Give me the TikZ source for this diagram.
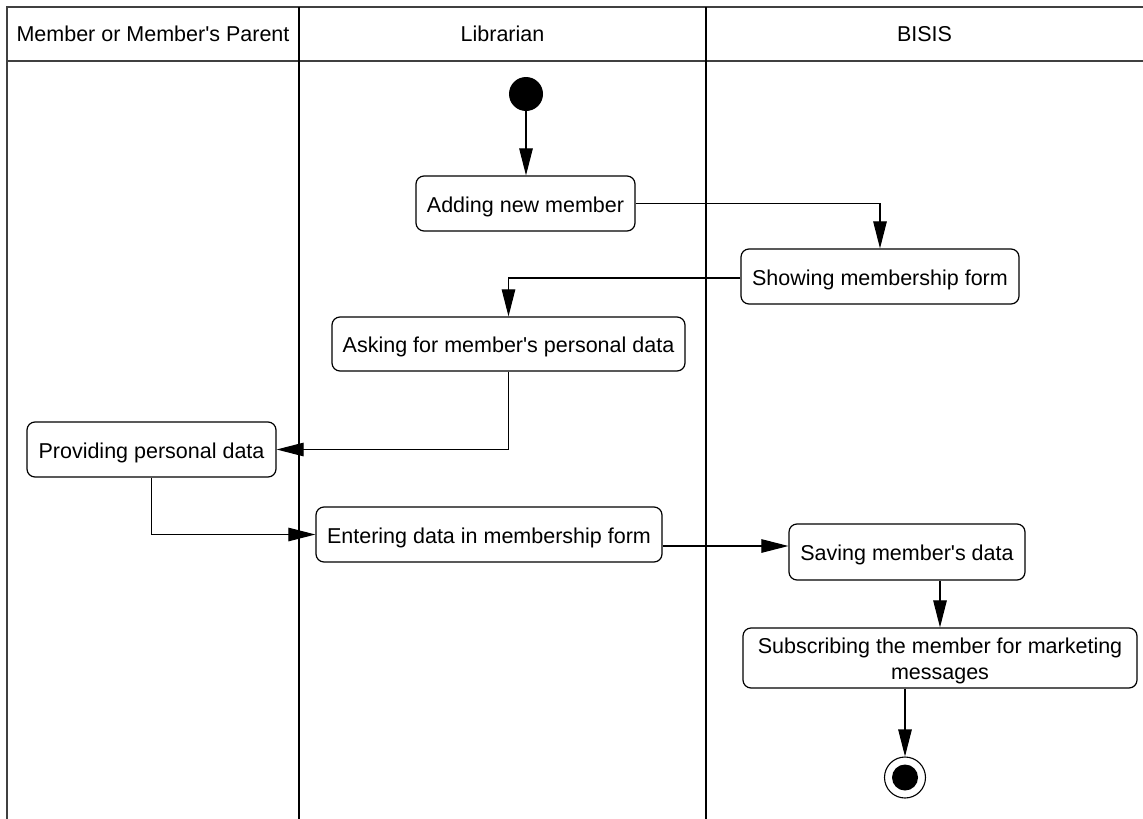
\documentclass[tikz,border=0pt]{standalone}
\usepackage{fontspec}
\setmainfont{Liberation Sans}[Ligatures=TeXOff]
\usetikzlibrary{arrows.meta,calc}
\begin{document}
\begin{tikzpicture}[x=1pt,y=-1pt,
  lane/.style={line width=1.4pt,draw=black!75},
  divider/.style={line width=1.5pt,draw=black},
  act/.style={draw,rounded corners=8pt,line width=1.2pt,fill=white,align=center,
    font=\fontsize{21.5}{26}\selectfont,inner sep=0pt,text height=21.5pt,text depth=4.5pt},
  head/.style={font=\fontsize{21.5}{26}\selectfont},
  flow/.style={line width=1.1pt,-{Triangle[length=27pt,width=13.5pt]}},
  startnode/.style={circle,fill=black,minimum size=34pt,inner sep=0pt},
  endnode/.style={circle,draw,line width=1.1pt,minimum size=41pt,inner sep=0pt,
    path picture={\fill (path picture bounding box.center) circle (13pt);}}]
\useasboundingbox (0,0) rectangle (1143,819);
\fill[white] (0,0) rectangle (1143,819);

% swimlane frame
\draw[lane] (1143,7) -- (7,7) -- (7,819);
\draw[lane] (7,61) -- (1143,61);
\draw[divider] (299,7) -- (299,819);
\draw[divider] (706,7) -- (706,819);
\node[head] (h1) at (153,34) {Member or Member's Parent};
\node[head] (h2) at (502.5,34) {Librarian};
\node[head] (h3) at (924.5,34) {BISIS};

% activities
\node[startnode] (start) at (526,94) {};
\node[act,minimum width=219pt,minimum height=55pt] (add) at (525.5,203.5) {Adding new member};
\node[act,minimum width=278pt,minimum height=55pt] (show) at (880,276.5) {Showing membership form};
\node[act,minimum width=353pt,minimum height=54pt] (ask) at (508.5,344) {Asking for member's personal data};
\node[act,minimum width=249pt,minimum height=55pt] (prov) at (151.5,449.5) {Providing personal data};
\node[act,minimum width=346pt,minimum height=55pt] (enter) at (489,534.5) {Entering data in membership form};
\node[act,minimum width=236pt,minimum height=56pt] (save) at (907,552) {Saving member's data};
\node[act,minimum width=394pt,minimum height=60pt,text height=,text depth=] (sub) at (940,658)
  {\rule{0pt}{21.5pt}Subscribing the member for marketing\\messages\rule[-4.5pt]{0pt}{4.5pt}};
\node[endnode] (end) at (905,777.5) {};

% control flow
\draw[flow] (start) -- (start |- add.north);
\draw[flow] (add.east) -| (show.north);
\draw[flow] ([yshift=-1.5pt]show.west) -| (ask.north);
\draw[flow] (ask.south) |- (prov.east);
\draw[flow] (prov.south) |- (enter.west);
\draw[flow] ([yshift=-11.5pt]enter.east) -- ([yshift=6pt]save.west);
\draw[flow] (save.south -| sub.north) -- (sub.north);
\draw[flow] (sub.south -| end.north) -- (end.north);
\end{tikzpicture}
\end{document}
